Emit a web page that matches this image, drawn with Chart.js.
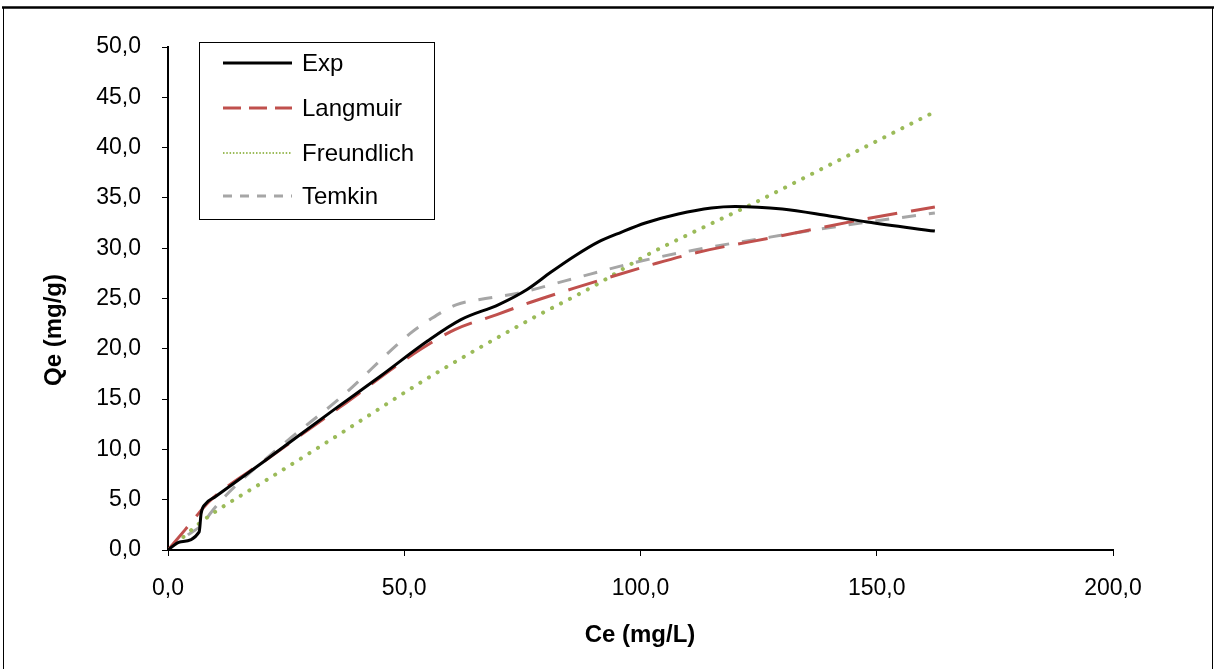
<!DOCTYPE html>
<html>
<head>
<meta charset="utf-8">
<script src="https://cdn.jsdelivr.net/npm/chart.js@4.4.1/dist/chart.umd.min.js"></script>
<style>
    html, body { margin: 0; padding: 0; background: #fff; }
    #wrap { position: relative; width: 1216px; height: 669px; }
</style>
</head>
<body>
<div id="wrap"><canvas id="chart" width="1216" height="669"></canvas></div>
<script>
// values
const seriesNames = ["Exp", "Langmuir", "Freundlich", "Temkin"];

const ceExp = [0, 2.5, 6.6, 7.0, 8.0, 10, 20, 35, 45, 55, 62, 70, 76, 81, 86, 91, 96, 101, 108, 115, 120, 130, 140, 148, 162.3];
const qExp  = [0, 0.8, 1.8, 3.6, 4.6, 5.3, 8.7, 13.9, 17.3, 20.8, 22.9, 24.4, 25.9, 27.6, 29.2, 30.6, 31.6, 32.5, 33.4, 34.0, 34.15, 33.9, 33.2, 32.6, 31.7];

const ceLang = [0, 3.6, 5.7, 8.9, 20.9, 36.4, 53.3, 60.7, 69.6, 76.6, 85.8, 103.4, 112.2, 129.5, 147.5, 162.3];
const qLang  = [0, 2.0, 3.2, 4.9, 9.0, 14.2, 19.9, 21.9, 23.4, 24.6, 26.0, 28.5, 29.6, 31.2, 32.9, 34.1];

const ceFreu = [0, 3, 6.5, 10, 21, 35.6, 55.4, 76.6, 90, 101.3, 111.2, 122.8, 142.2, 161.6];
const qFreu  = [0, 1.2, 2.6, 3.8, 7.0, 11.3, 17.2, 22.9, 26.2, 29.3, 31.6, 34.2, 38.8, 43.4];

const ceTemk = [4.2, 7.5, 8.9, 12.4, 25.1, 36.4, 51.2, 55.4, 61.1, 66, 73.8, 84.4, 99.9, 111.2, 127.4, 143.6, 162.3];
const qTemk  = [1.5, 2.65, 3.6, 5.5, 10.8, 15.1, 21.5, 22.9, 24.4, 24.9, 25.5, 26.8, 28.7, 29.8, 31.1, 32.3, 33.5];

const xTicks = [0, 50, 100, 150, 200];
const yTicks = [0, 5, 10, 15, 20, 25, 30, 35, 40, 45, 50];

const xTitle = "Ce (mg/L)";
const yTitle = "Qe (mg/g)";

function pts(xs, ys) {
    return xs.map((x, i) => ({ x: x, y: ys[i] }));
}

function fmt(v) {
    return v.toFixed(1).replace(".", ",");
}

const styles = [
    { color: "#000000", width: 3, dash: [], legendDash: [] },
    { color: "#C0504D", width: 3, dash: [30, 14], legendDash: [18, 8] },
    { color: "#9BBB59", width: 4, dash: [0.1, 10], legendDash: [1.5, 1.8], legendWidth: 2, cap: "round" },
    { color: "#A6A6A6", width: 3, dash: [14, 13], legendDash: [9, 8] }
];

const allData = [pts(ceExp, qExp), pts(ceLang, qLang), pts(ceFreu, qFreu), pts(ceTemk, qTemk)];

const decor = {
    id: "decor",
    beforeDraw(chart) {
        const ctx = chart.ctx;
        ctx.save();
        ctx.fillStyle = "#fff";
        ctx.fillRect(0, 0, chart.width, chart.height);
        ctx.strokeStyle = "#000";
        ctx.lineWidth = 2.5;
        ctx.beginPath();
        ctx.moveTo(2, 7.5);
        ctx.lineTo(1214, 7.5);
        ctx.stroke();
        ctx.lineWidth = 1;
        ctx.beginPath();
        ctx.moveTo(3.5, 7);
        ctx.lineTo(3.5, 669);
        ctx.moveTo(1212.5, 7);
        ctx.lineTo(1212.5, 669);
        ctx.stroke();
        ctx.restore();
    },
    afterDraw(chart) {
        const ctx = chart.ctx;
        ctx.save();
        // axis titles
        ctx.fillStyle = "#000";
        ctx.font = "bold 24px 'Liberation Sans', Arial, sans-serif";
        ctx.textAlign = "center";
        ctx.textBaseline = "middle";
        ctx.fillText(xTitle, 640, 635);
        ctx.translate(54, 330);
        ctx.rotate(-Math.PI / 2);
        ctx.fillText(yTitle, 0, 0);
        ctx.restore();

        // legend box
        ctx.save();
        ctx.fillStyle = "#fff";
        ctx.fillRect(199, 42, 235, 177);
        ctx.strokeStyle = "#000";
        ctx.lineWidth = 1;
        ctx.strokeRect(199.5, 42.5, 235, 177);
        const rows = [63, 108, 153, 196];
        ctx.font = "24px 'Liberation Sans', Arial, sans-serif";
        ctx.textBaseline = "middle";
        ctx.textAlign = "left";
        seriesNames.forEach((name, i) => {
            const s = styles[i];
            ctx.beginPath();
            ctx.strokeStyle = s.color;
            ctx.lineWidth = s.legendWidth || s.width;
            ctx.setLineDash(s.legendDash);
            ctx.lineCap = "butt";
            ctx.moveTo(223, rows[i]);
            ctx.lineTo(292, rows[i]);
            ctx.stroke();
            ctx.setLineDash([]);
            ctx.fillStyle = "#000";
            ctx.fillText(name, 302, rows[i] + 1);
        });
        ctx.restore();
    }
};

const ctx = document.getElementById("chart").getContext("2d");
new Chart(ctx, {
    type: "line",
    data: {
        datasets: seriesNames.map((name, i) => ({
            label: name,
            data: allData[i],
            borderColor: styles[i].color,
            borderWidth: styles[i].width,
            borderDash: styles[i].dash,
            borderCapStyle: styles[i].cap || "butt",
            pointRadius: 0,
            fill: false,
            cubicInterpolationMode: "monotone"
        }))
    },
    options: {
        responsive: false,
        animation: false,
        devicePixelRatio: 1,
        layout: { padding: { top: 47, right: 103, bottom: 0, left: 0 } },
        plugins: {
            legend: { display: false },
            tooltip: { enabled: false }
        },
        scales: {
            x: {
                type: "linear",
                min: 0,
                max: 200,
                afterBuildTicks: (s) => { s.ticks = xTicks.map(v => ({ value: v })); },
                afterFit: (s) => { s.height = 119; },
                grid: { drawOnChartArea: false, drawTicks: true, tickLength: 6, color: "#000", lineWidth: 1 },
                border: { display: true, color: "#000", width: 2 },
                ticks: {
                    color: "#000",
                    padding: 19,
                    maxRotation: 0,
                    font: { family: "'Liberation Sans', Arial, sans-serif", size: 23 },
                    callback: (v) => fmt(v)
                }
            },
            y: {
                min: 0,
                max: 50,
                afterBuildTicks: (s) => { s.ticks = yTicks.map(v => ({ value: v })); },
                afterFit: (s) => { s.width = 168; },
                grid: { drawOnChartArea: false, drawTicks: true, tickLength: 6, color: "#000", lineWidth: 1 },
                border: { display: true, color: "#000", width: 2 },
                ticks: {
                    color: "#000",
                    padding: 21,
                    font: { family: "'Liberation Sans', Arial, sans-serif", size: 23 },
                    callback: (v) => fmt(v)
                }
            }
        }
    },
    plugins: [decor]
});
</script>
</body>
</html>
